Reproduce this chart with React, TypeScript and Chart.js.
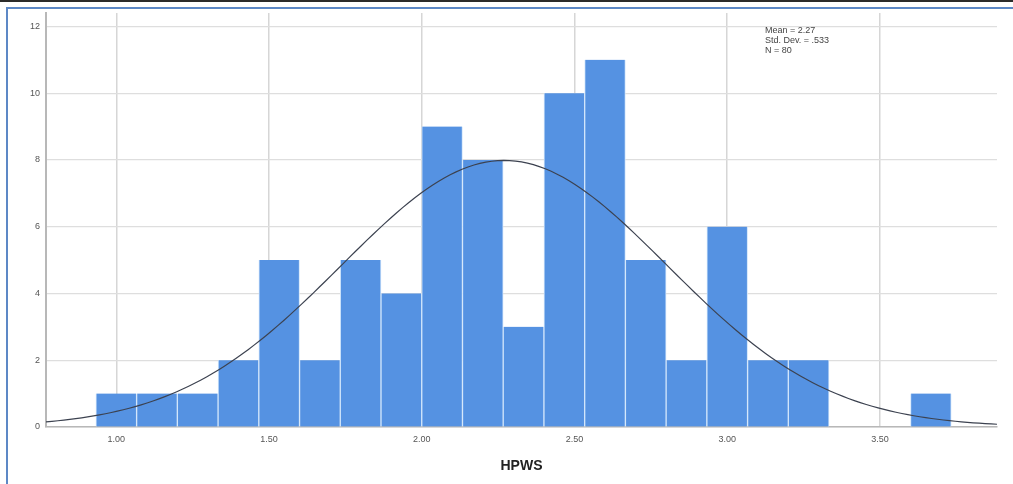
import React, { useEffect, useRef } from "react";
import { Chart, registerables } from "chart.js";

Chart.register(...registerables);

// Histogram bins (lower edges) and counts
const binStart = 0.9333;
const binWidth = 0.13333;
const counts = [1, 1, 1, 2, 5, 2, 5, 4, 9, 8, 3, 10, 11, 5, 2, 6, 2, 2, 0, 0, 1];
const yTicks = [0, 2, 4, 6, 8, 10, 12];
const xTicks = [1.0, 1.5, 2.0, 2.5, 3.0, 3.5];
const statLines = ["Mean = 2.27", "Std. Dev. = .533", "N = 80"];
const mean = 2.27;
const sd = 0.533;
const n = 80;
const xMin = 0.77;
const xMax = 3.883;
const yMax = 12.4;
const axisTitle = "HPWS";

export default function App() {
  const ref = useRef<HTMLCanvasElement>(null);
  useEffect(() => {
    document.body.style.margin = "0";
    const bars = counts.map((c, i) => ({ x: binStart + binWidth * (i + 0.5), y: c }));
    // fitted normal curve defined by the displayed Mean / Std. Dev. / N
    const peak = (n * binWidth) / (sd * Math.sqrt(2 * Math.PI));
    const curve: { x: number; y: number }[] = [];
    for (let k = 0; k <= 160; k++) {
      const x = xMin + ((xMax - xMin) * k) / 160;
      const z = (x - mean) / sd;
      curve.push({ x, y: peak * Math.exp(-0.5 * z * z) });
    }
    const textPlugin = {
      id: "texts",
      afterDraw(chart: any) {
        const ctx = chart.ctx;
        const a = chart.chartArea;
        ctx.save();
        ctx.fillStyle = "#444";
        ctx.font = "9px 'Liberation Sans', Arial, sans-serif";
        ctx.textAlign = "left";
        ctx.textBaseline = "middle";
        statLines.forEach((t, i) => ctx.fillText(t, 765, 31 + i * 10));
        ctx.fillStyle = "#222";
        ctx.font = "bold 14px 'Liberation Sans', Arial, sans-serif";
        ctx.textAlign = "center";
        ctx.fillText(axisTitle, (a.left + a.right) / 2, 466);
        ctx.restore();
      },
    };
    const chart = new Chart(ref.current!, {
      type: "bar",
      data: {
        datasets: [
          {
            type: "line",
            data: curve,
            borderColor: "#3c4250",
            borderWidth: 1.2,
            pointRadius: 0,
            fill: false,
            tension: 0,
            order: 0,
          } as any,
          {
            type: "bar",
            data: bars,
            backgroundColor: "#5592e2",
            borderColor: "#d2e6fb",
            borderWidth: { left: 1, right: 1, top: 0, bottom: 0 },
            borderSkipped: false,
            categoryPercentage: 1,
            barPercentage: 1,
            order: 1,
          } as any,
        ],
      },
      options: {
        animation: false,
        responsive: false,
        devicePixelRatio: 1,
        layout: { padding: { top: 13, right: 16, left: 0, bottom: 0 } },
        plugins: { legend: { display: false }, tooltip: { enabled: false } },
        scales: {
          x: {
            type: "linear",
            min: xMin,
            max: xMax,
            offset: false,
            afterFit: (s: any) => { s.height = 57; },
            afterBuildTicks: (s: any) => { s.ticks = xTicks.map((v) => ({ value: v })); },
            grid: { color: "#d6d6d6", lineWidth: 1.5, drawTicks: false, offset: false },
            border: { color: "#b8b8b8", width: 1.5 },
            ticks: {
              padding: 7,
              color: "#555",
              font: { size: 9, family: "'Liberation Sans', Arial, sans-serif" },
              callback: (v: any) => Number(v).toFixed(2),
            },
          },
          y: {
            min: 0,
            max: yMax,
            afterFit: (s: any) => { s.width = 46; },
            afterBuildTicks: (s: any) => { s.ticks = yTicks.map((v) => ({ value: v })); },
            grid: { color: "#dedede", lineWidth: 1.2, drawTicks: false },
            border: { color: "#b8b8b8", width: 2 },
            ticks: {
              padding: 6,
              color: "#555",
              font: { size: 9, family: "'Liberation Sans', Arial, sans-serif" },
            },
          },
        },
      },
      plugins: [textPlugin],
    } as any);
    return () => chart.destroy();
  }, []);
  return (
    <div style={{ position: "absolute", left: 0, top: 0, width: 1013, height: 484, overflow: "hidden", background: "#fff" }}>
      <div style={{ position: "absolute", left: 0, top: 0, width: 1013, height: 2, background: "#2b2b2b" }} />
      <div style={{ position: "absolute", left: 6, top: 7, width: 1013, height: 484, borderLeft: "2px solid #5d88c6", borderTop: "2px solid #5d88c6" }} />
      <canvas ref={ref} width={1013} height={484} style={{ position: "absolute", left: 0, top: 0 }} />
    </div>
  );
}
